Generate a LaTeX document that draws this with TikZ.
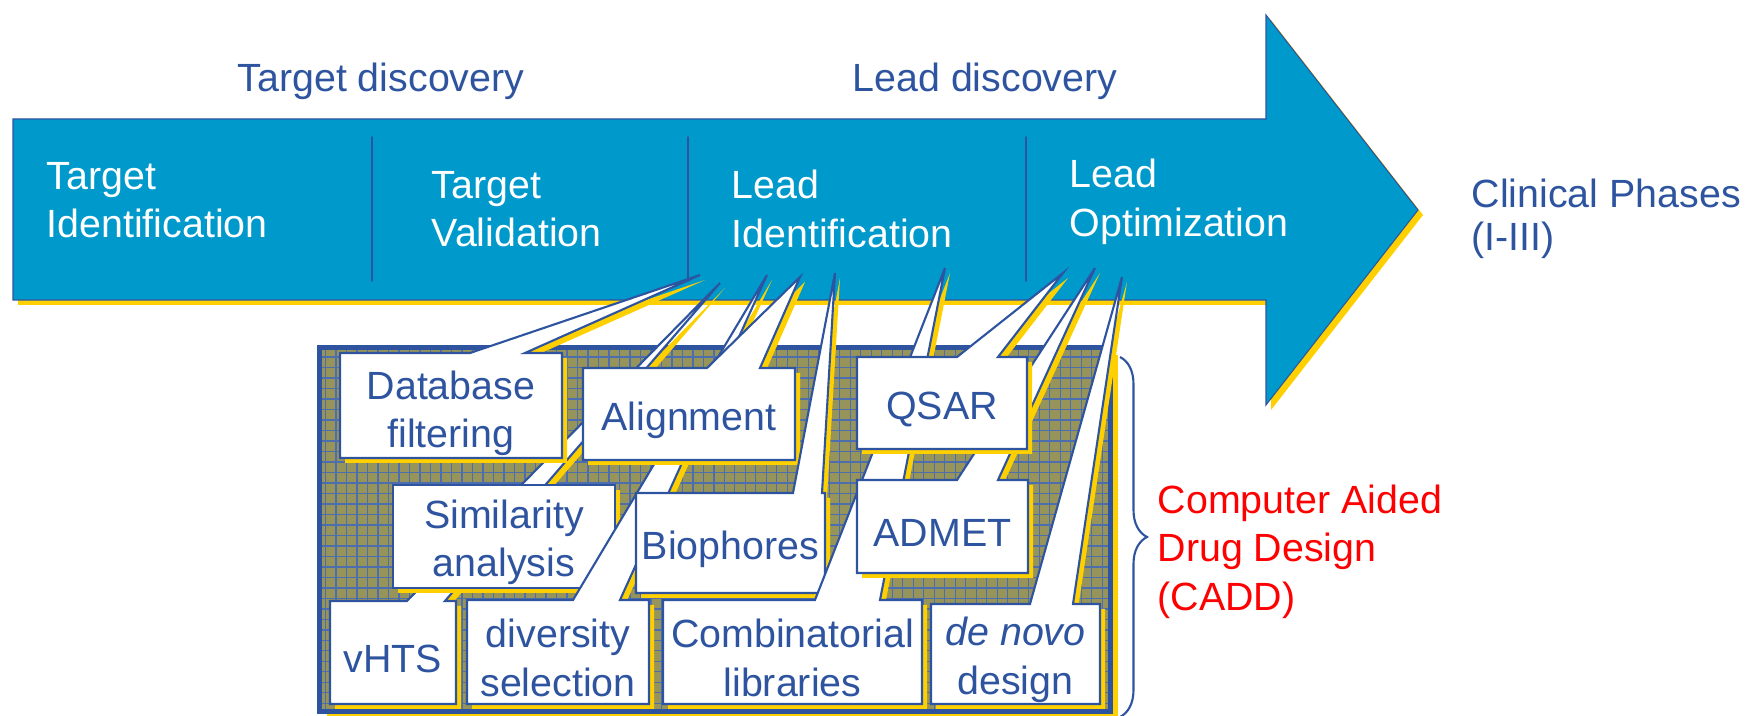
\documentclass[tikz,border=0pt]{standalone}
\usepackage{fontspec}
\setmainfont{Liberation Sans}
\usepackage{tikz}
\usepackage{tkz-euclide}
\usepackage{xcolor}
\usetikzlibrary{shadows,decorations.pathreplacing}

\definecolor{cblue}{RGB}{46,84,160}
\definecolor{carrow}{RGB}{0,153,204}
\definecolor{cyel}{RGB}{255,208,0}
\definecolor{colive}{RGB}{150,148,90}

\tikzset{
  ysh/.style={drop shadow={shadow xshift=#1, shadow yshift=-#1, fill=cyel, opacity=1}},
  ysh/.default=0.05cm,
  callout/.style={ysh, fill=white, draw=cblue, line width=0.6pt},
  txt/.style={font=\fontsize{11.2}{13.8}\selectfont, inner sep=0pt, align=center, text=cblue},
  boxtxt/.style={txt, yshift=-0.06cm},
  phase/.style={txt, align=left, anchor=west, text=white},
}

\begin{document}
\begin{tikzpicture}
    \useasboundingbox (0,0) rectangle (17.51,-7.16);
    \tkzDefPoints{0.13/-1.19/A,12.66/-1.19/B,12.66/-0.15/C,14.18/-2.10/D,12.66/-4.05/E,12.66/-3.00/F,0.13/-3.00/G}
    \tkzDefPoints{3.72/-1.37/U_1,3.72/-2.81/V_1,6.88/-1.37/U_2,6.88/-2.81/V_2,10.26/-1.37/U_3,10.26/-2.81/V_3}
    \tkzDefPoints{7.00/-2.75/T_1,7.20/-2.83/T_2,7.67/-2.75/T_3,8.00/-2.77/T_4,8.35/-2.73/T_5}
    \tkzDefPoints{9.45/-2.68/T_6,10.63/-2.73/T_7,10.95/-2.68/T_8,11.22/-2.77/T_9}
    \tkzDefPoints{11.20/-3.57/K,11.20/-7.17/L}

    % the pipeline arrow
    \filldraw[ysh, fill=carrow, draw=cblue, line width=0.3pt] (A) -- (B) -- (C) -- (D) -- (E) -- (F) -- (G) -- cycle;
    \tkzDrawSegments[cblue, line width=0.5pt](U_1,V_1 U_2,V_2 U_3,V_3)
    \node[phase] (ti) at (0.46,-2.00) {Target\\Identification};
    \node[phase] (tv) at (4.31,-2.09) {Target\\Validation};
    \node[phase] (li) at (7.31,-2.09) {Lead\\Identification};
    \node[phase] (lo) at (10.69,-2.02) {Lead\\Optimization};
    \node[txt] (td) at (3.81,-0.815) {Target discovery};
    \node[txt] (ld) at (9.85,-0.815) {Lead discovery};
    \node[txt, align=left, anchor=west, font=\fontsize{11.2}{12.2}\selectfont] (cp) at (14.71,-2.19) {Clinical Phases\\(I-III)};

    % CADD frame
    \fill[ysh=0.075cm, colive] (3.195,-3.475) rectangle (11.10,-7.12);
    \begin{scope}
      \clip (3.195,-3.475) rectangle (11.10,-7.12);
      \draw[cblue!85, line width=0.3pt, step=0.105] (3.1,-7.2) grid (11.2,-3.4);
    \end{scope}
    \draw[cblue, line width=0.05cm] (3.195,-3.475) rectangle (11.10,-7.12);

    % callouts
    \filldraw[callout] (3.30,-6.01) -- (4.07,-6.01) -- (T_2) -- (4.45,-6.01) -- (4.56,-6.01) -- (4.56,-7.04) -- (3.30,-7.04) -- cycle;
    \node[boxtxt] (vh) at (3.93,-6.525) {vHTS};
    \filldraw[callout] (3.93,-4.85) rectangle (6.15,-5.88);
    \node[boxtxt] (sim) at (5.04,-5.365) {Similarity\\analysis};
    \filldraw[callout] (4.67,-6.00) -- (5.73,-6.00) -- (T_3) -- (6.20,-6.00) -- (6.49,-6.00) -- (6.49,-7.04) -- (4.67,-7.04) -- cycle;
    \node[boxtxt] (div) at (5.58,-6.52) {diversity\\selection};
    \filldraw[callout] (3.40,-3.53) -- (4.70,-3.53) -- (T_1) -- (5.25,-3.53) -- (5.62,-3.53) -- (5.62,-4.58) -- (3.40,-4.58) -- cycle;
    \node[boxtxt] (db) at (4.51,-4.075) {Database\\filtering};
    \filldraw[callout] (5.83,-3.68) -- (7.07,-3.68) -- (T_4) -- (7.60,-3.68) -- (7.95,-3.68) -- (7.95,-4.60) -- (5.83,-4.60) -- cycle;
    \node[boxtxt] (al) at (6.89,-4.14) {Alignment};
    \filldraw[callout] (6.36,-4.93) -- (7.93,-4.93) -- (T_5) -- (8.22,-4.93) -- (8.25,-4.93) -- (8.25,-5.93) -- (6.36,-5.93) -- cycle;
    \node[boxtxt] (bio) at (7.305,-5.43) {Biophores};
    \filldraw[callout] (6.63,-6.00) -- (8.15,-6.00) -- (T_6) -- (8.80,-6.00) -- (9.22,-6.00) -- (9.22,-7.04) -- (6.63,-7.04) -- cycle;
    \node[boxtxt] (comb) at (7.925,-6.52) {Combinatorial\\libraries};
    \filldraw[callout] (8.57,-4.80) -- (9.57,-4.80) -- (T_8) -- (9.98,-4.80) -- (10.28,-4.80) -- (10.28,-5.73) -- (8.57,-5.73) -- cycle;
    \node[boxtxt] (adm) at (9.425,-5.265) {ADMET};
    \filldraw[callout] (8.57,-3.57) -- (9.57,-3.57) -- (T_7) -- (9.98,-3.57) -- (10.27,-3.57) -- (10.27,-4.49) -- (8.57,-4.49) -- cycle;
    \node[boxtxt] (qs) at (9.42,-4.03) {QSAR};
    \filldraw[callout] (9.31,-6.04) -- (10.30,-6.04) -- (T_9) -- (10.73,-6.04) -- (11.00,-6.04) -- (11.00,-7.04) -- (9.31,-7.04) -- cycle;
    \node[boxtxt] (dn) at (10.155,-6.54) {\textit{de novo}\\design};

    % brace and label
    \draw[cblue, line width=0.6pt, decorate, decoration={brace, amplitude=0.27cm}] (K) -- (L);
    \node[txt, text=red, align=left, anchor=west] (cadd) at (11.57,-5.515) {Computer Aided\\Drug Design\\(CADD)};

\end{tikzpicture}
\end{document}
